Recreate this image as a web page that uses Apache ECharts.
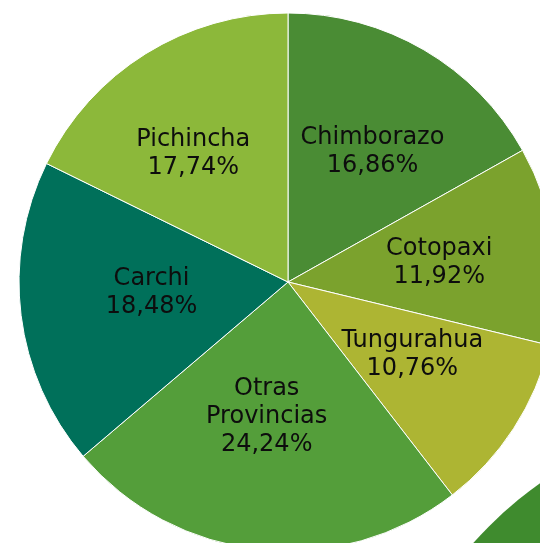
<!DOCTYPE html>
<html><head><meta charset="utf-8">
<script src="https://cdn.jsdelivr.net/npm/echarts@6/dist/echarts.min.js"></script>
<style>html,body{margin:0;padding:0;background:#fff}#c{width:540px;height:543px}</style>
</head><body><div id="c"></div>
<script>
const categories = ["Chimborazo","Cotopaxi","Tungurahua","Otras\nProvincias","Carchi","Pichincha"];
const values = [16.86, 11.92, 10.76, 24.24, 18.48, 17.74];
const colors = ["#4a8c34","#7ba22d","#adb533","#549e3a","#00705a","#8cb83a"];
const labelOffsets = [[15,-12],[15,0],[9,-2],[-7,-2],[0,-6],[-22,-12]];

const chart = echarts.init(document.getElementById('c'), null, {renderer:'canvas'});
chart.setOption({
  animation:false,
  graphic:[{type:'circle', shape:{cx:772, cy:809, r:400}, style:{fill:'#3f8b2e'}, z:-1}],
  series:[{
    type:'pie',
    center:[288,282],
    radius:[0,269],
    startAngle:90,
    clockwise:true,
    avoidLabelOverlap:false,
    itemStyle:{borderColor:'#ffffff', borderWidth:1},
    label:{
      show:true, position:'inside', color:'#0d0d0d',
      fontFamily:'DejaVu Sans', fontWeight:'normal', fontSize:24, lineHeight:28,
      formatter:p => p.name + '\n' + p.value.toFixed(2).replace('.', ',') + '%'
    },
    labelLine:{show:false},
    emphasis:{disabled:true},
    data: categories.map((n,i)=>({name:n, value:values[i], itemStyle:{color:colors[i]}, label:{offset:labelOffsets[i]}}))
  }]
});
</script></body></html>
